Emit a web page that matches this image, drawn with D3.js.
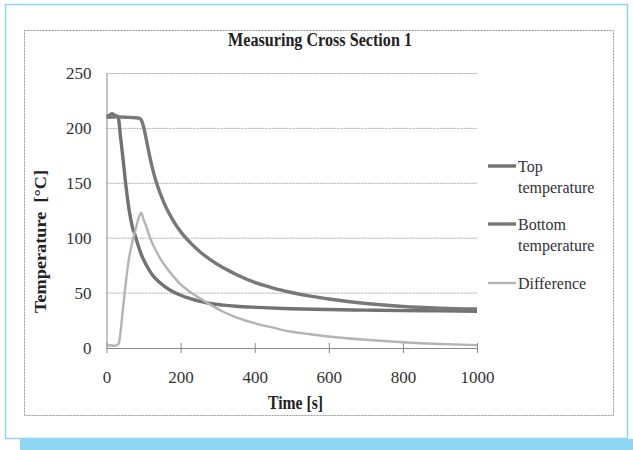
<!DOCTYPE html>
<html>
<head>
<meta charset="utf-8">
<script src="https://cdn.jsdelivr.net/npm/d3@7"></script>
<style>
  body { margin: 0; background: #fff; }
</style>
</head>
<body>
<div class="area"></div>
<script>
const W = 633
const H = 450
const lightBlue = "#8fd6f2"
const serif = "'Liberation Serif', 'Times New Roman', serif"

// data: time [s] vs temperature [°C]
const topTime = [0, 8, 15, 22, 30, 33, 37, 42, 47, 51, 56, 60, 65, 70, 76, 83, 94, 110, 125, 146, 170, 200, 226, 253, 280, 315, 350, 406, 496, 600, 700, 800, 900, 1000]
const topTemp = [211, 212, 213.5, 212, 211, 208, 195, 180, 165, 152, 138, 128, 118, 110, 104, 96, 85, 74, 66, 59, 53, 48, 45, 42.5, 40.5, 39, 38, 37, 35.8, 35, 34.5, 34, 33.8, 33.5]

const bottomTime = [0, 30, 60, 85, 92, 96, 100, 105, 110, 116, 122, 128, 134, 140, 150, 160, 180, 200, 226, 253, 280, 315, 350, 406, 450, 496, 550, 600, 700, 800, 900, 1000]
const bottomTemp = [210, 210.5, 210, 209.5, 208.5, 206, 201.5, 194, 185.5, 175.5, 166.5, 158.5, 151.5, 145.5, 136.5, 128.5, 116, 106, 96, 87.5, 80.5, 73, 67, 59, 54.5, 50.8, 47.2, 44.6, 40.5, 37.8, 36.3, 35.5]

const diffTime = [0, 10, 20, 30, 33, 38, 42, 47, 53, 60, 66, 73, 80, 87, 94, 100, 108, 119, 133, 146, 160, 181, 200, 226, 253, 280, 315, 350, 406, 450, 496, 550, 600, 700, 800, 900, 1000]
const diffTemp = [1.5, 2.5, 2, 3, 4, 15, 28, 44, 62, 80, 91, 101, 110, 119, 123, 117, 110, 99, 89, 81, 74, 65, 58, 51, 45, 39.5, 33, 28, 22, 18.5, 15, 12.5, 10.5, 7.5, 5.2, 3.6, 2.6]

const xTicks = [0, 200, 400, 600, 800, 1000]
const yTicks = [0, 50, 100, 150, 200, 250]

const series = [
  { name: ["Top", "temperature"], t: topTime, v: topTemp, color: "#727272", width: 3.4 },
  { name: ["Bottom", "temperature"], t: bottomTime, v: bottomTemp, color: "#787878", width: 3.4 },
  { name: ["Difference"], t: diffTime, v: diffTemp, color: "#b4b4b4", width: 2.4 }
]

const svg = d3.select(".area")
  .append("svg")
  .attr("width", W)
  .attr("height", H)
  .style("font-family", serif)

// outer frame and the blue bar under it
svg.append("rect")
  .attr("x", 20).attr("y", 439).attr("width", W - 20).attr("height", 11)
  .attr("fill", lightBlue)
svg.append("rect")
  .attr("x", 5.5).attr("y", 4.5).attr("width", 622).attr("height", 434)
  .attr("fill", "#fff").attr("stroke", lightBlue).attr("stroke-width", 1.5)

// chart area border
svg.append("rect")
  .attr("x", 24.5).attr("y", 30.5).attr("width", 589).attr("height", 385)
  .attr("fill", "none").attr("stroke", "#999").attr("stroke-width", 1)
  .attr("stroke-dasharray", "2,1")

const x = d3.scaleLinear().domain([0, 1000]).range([106.5, 477])
const y = d3.scaleLinear().domain([0, 250]).range([348, 73.5])

// grid
svg.append("g").selectAll("line")
  .data(yTicks.filter(d => d > 0))
  .join("line")
  .attr("x1", x(0)).attr("x2", x(1000))
  .attr("y1", d => y(d)).attr("y2", d => y(d))
  .attr("stroke", "#aaa").attr("stroke-width", 1)
  .attr("stroke-dasharray", "2,1")

// axes
const xAxis = svg.append("g")
  .attr("transform", `translate(0, ${y(0)})`)
  .call(d3.axisBottom(x).tickValues(xTicks).tickFormat(d3.format("d"))
    .tickSizeInner(5).tickSizeOuter(0).tickPadding(18))
const yAxis = svg.append("g")
  .attr("transform", `translate(${x(0)}, 0)`)
  .call(d3.axisLeft(y).tickValues(yTicks).tickSize(0).tickPadding(15))

xAxis.selectAll(".tick line").attr("y1", -5)
for (const ax of [xAxis, yAxis]) {
  ax.attr("font-family", null).attr("font-size", null)
  ax.select(".domain").attr("stroke", "#888")
  ax.selectAll(".tick line").attr("stroke", "#888")
  ax.selectAll("text")
    .style("font-family", serif)
    .style("font-size", "17px")
    .attr("fill", "#333")
}

// lines
const line = d3.line()
  .x(d => x(d[0]))
  .y(d => y(d[1]))
  .curve(d3.curveMonotoneX)

svg.append("g").selectAll("path")
  .data(series)
  .join("path")
  .attr("d", s => line(s.t.map((t, i) => [t, s.v[i]])))
  .attr("fill", "none")
  .attr("stroke", s => s.color)
  .attr("stroke-width", s => s.width)
  .attr("stroke-linejoin", "round")

// titles
svg.append("text")
  .attr("x", 228).attr("y", 46)
  .attr("textLength", 184).attr("lengthAdjust", "spacingAndGlyphs")
  .style("font-size", "18px").style("font-weight", "bold")
  .attr("fill", "#222")
  .text("Measuring Cross Section 1")

svg.append("text")
  .attr("x", 268).attr("y", 409)
  .attr("textLength", 55).attr("lengthAdjust", "spacingAndGlyphs")
  .style("font-size", "18px").style("font-weight", "bold")
  .attr("fill", "#222")
  .text("Time [s]")

svg.append("text")
  .attr("transform", "translate(46, 313) rotate(-90)")
  .attr("textLength", 143).attr("lengthAdjust", "spacingAndGlyphs")
  .style("font-size", "17px").style("font-weight", "bold")
  .attr("fill", "#222")
  .attr("xml:space", "preserve")
  .text("Temperature  [°C]")

// legend
const legendY = [166, 224, 283]
const legend = svg.append("g").selectAll("g")
  .data(series)
  .join("g")
  .attr("transform", (s, i) => `translate(488, ${legendY[i]})`)

legend.append("line")
  .attr("x1", 0).attr("x2", 28).attr("y1", 0).attr("y2", 0)
  .attr("stroke", s => s.color)
  .attr("stroke-width", s => s.width)

legend.selectAll("text")
  .data(s => s.name)
  .join("text")
  .attr("x", 30)
  .attr("y", (d, i) => 5.5 + i * 21)
  .style("font-size", "16px")
  .attr("fill", "#333")
  .text(d => d)
</script>
</body>
</html>
